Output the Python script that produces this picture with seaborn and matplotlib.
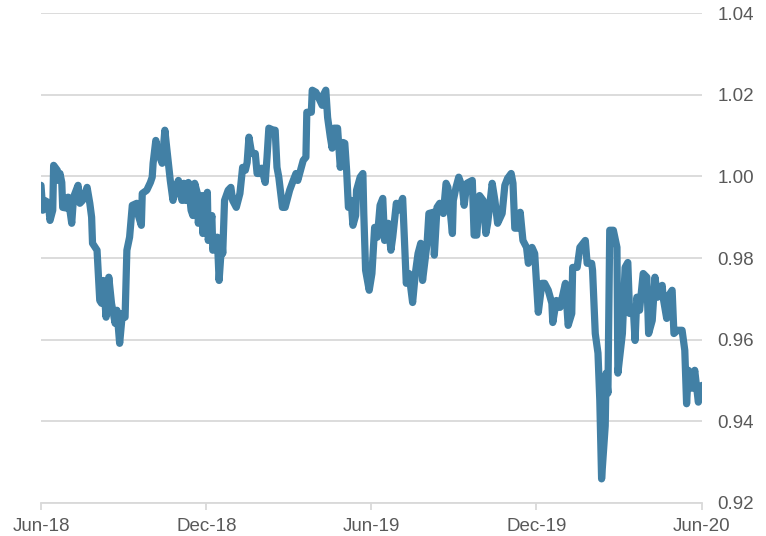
import pandas as pd
import seaborn as sns
import matplotlib.pyplot as plt

day_offset = [
    0, 2, 4, 8, 10, 13, 14, 18, 19, 21, 23, 24, 29, 30, 34, 36, 41, 43, 46, 51,
    54, 56, 57, 62, 65, 67, 69, 72, 75, 78, 82, 84, 87, 90, 93, 95, 98, 101, 106, 107,
    111, 112, 117, 121, 123, 124, 127, 129, 132, 134, 137, 139, 143, 146, 148, 152, 154, 156, 158, 160,
    163, 166, 168, 170, 173, 174, 178, 179, 184, 185, 189, 190, 195, 197, 200, 201, 203, 207, 210, 212,
    216, 220, 223, 226, 228, 230, 233, 237, 239, 242, 244, 248, 250, 252, 257, 259, 261, 263, 267, 270,
    272, 275, 279, 282, 284, 288, 290, 293, 294, 299, 300, 304, 307, 311, 312, 315, 317, 320, 322, 324,
    328, 331, 334, 336, 338, 340, 343, 345, 348, 349, 353, 356, 357, 359, 363, 366, 369, 372, 375, 378,
    380, 384, 387, 389, 393, 395, 400, 404, 407, 411, 414, 417, 420, 422, 427, 429, 434, 435, 438, 441,
    445, 448, 450, 455, 456, 459, 462, 466, 468, 471, 477, 479, 482, 485, 489, 492, 494, 499, 502, 505,
    510, 513, 516, 520, 522, 524, 528, 530, 533, 537, 539, 543, 546, 550, 554, 557, 561, 565, 566, 570,
    574, 580, 583, 587, 588, 593, 596, 602, 604, 609, 610, 613, 616, 618, 620, 624, 625, 627, 629, 633,
    637, 638, 643, 646, 649, 651, 655, 657, 659, 662, 666, 670, 672, 676, 679, 682, 687, 688, 692, 693,
    698, 700, 704, 709, 712, 714, 716, 720, 723, 727, 731,
]
index_value = [
    0.9978, 0.9917, 0.9941, 0.9936, 0.9892, 0.9917, 1.0027, 1.0015, 0.9990, 1.0007,
    0.9985, 0.9924, 0.9922, 0.9949, 0.9885, 0.9949, 0.9978, 0.9934, 0.9941, 0.9973,
    0.9934, 0.9900, 0.9836, 0.9819, 0.9696, 0.9689, 0.9745, 0.9655, 0.9753, 0.9689,
    0.9640, 0.9672, 0.9591, 0.9664, 0.9655, 0.9819, 0.9851, 0.9929, 0.9934, 0.9909,
    0.9880, 0.9958, 0.9966, 0.9985, 0.9998, 1.0032, 1.0088, 1.0064, 1.0044, 1.0032,
    1.0113, 1.0071, 0.9990, 0.9941, 0.9966, 0.9990, 0.9958, 0.9941, 0.9983, 0.9941,
    0.9985, 0.9917, 0.9904, 0.9983, 0.9958, 0.9885, 0.9953, 0.9860, 0.9961, 0.9843,
    0.9904, 0.9819, 0.9851, 0.9745, 0.9843, 0.9811, 0.9941, 0.9966, 0.9973, 0.9941,
    0.9924, 0.9958, 1.0022, 1.0015, 1.0034, 1.0096, 1.0056, 1.0056, 1.0007, 1.0007,
    1.0020, 0.9985, 1.0047, 1.0118, 1.0113, 1.0113, 1.0022, 0.9998, 0.9924, 0.9924,
    0.9941, 0.9966, 0.9990, 1.0007, 0.9990, 1.0022, 1.0039, 1.0047, 1.0157, 1.0157,
    1.0211, 1.0206, 1.0193, 1.0174, 1.0198, 1.0211, 1.0144, 1.0096, 1.0069, 1.0118,
    1.0118, 1.0022, 1.0083, 1.0081, 1.0015, 0.9924, 0.9941, 0.9880, 0.9904, 0.9966,
    0.9998, 1.0007, 0.9909, 0.9770, 0.9721, 0.9762, 0.9875, 0.9851, 0.9929, 0.9946,
    0.9843, 0.9885, 0.9819, 0.9851, 0.9934, 0.9917, 0.9946, 0.9738, 0.9762, 0.9691,
    0.9762, 0.9811, 0.9836, 0.9745, 0.9836, 0.9909, 0.9912, 0.9807, 0.9924, 0.9934,
    0.9909, 0.9983, 0.9973, 0.9860, 0.9941, 0.9973, 0.9998, 0.9973, 0.9929, 0.9983,
    0.9990, 0.9856, 0.9856, 0.9953, 0.9941, 0.9860, 0.9885, 0.9983, 0.9941, 0.9885,
    0.9909, 0.9978, 0.9995, 1.0007, 0.9983, 0.9873, 0.9873, 0.9912, 0.9843, 0.9826,
    0.9787, 0.9826, 0.9811, 0.9667, 0.9738, 0.9738, 0.9721, 0.9689, 0.9642, 0.9696,
    0.9679, 0.9738, 0.9635, 0.9664, 0.9777, 0.9777, 0.9826, 0.9843, 0.9787, 0.9787,
    0.9770, 0.9615, 0.9567, 0.9452, 0.9259, 0.9389, 0.9518, 0.9469, 0.9868, 0.9868,
    0.9826, 0.9518, 0.9615, 0.9777, 0.9789, 0.9664, 0.9679, 0.9598, 0.9704, 0.9672,
    0.9762, 0.9753, 0.9615, 0.9647, 0.9753, 0.9704, 0.9733, 0.9704, 0.9652, 0.9704,
    0.9721, 0.9615, 0.9623, 0.9623, 0.9574, 0.9443, 0.9525, 0.9481, 0.9525, 0.9447,
    0.9488,
]

tick_dates = ["2018-06-01", "2018-12-01", "2019-06-01", "2019-12-01", "2020-06-01"]
tick_labels = ["Jun-18", "Dec-18", "Jun-19", "Dec-19", "Jun-20"]
y_ticks = [0.92, 0.94, 0.96, 0.98, 1.00, 1.02, 1.04]

start = pd.Timestamp("2018-06-01")
df = pd.DataFrame({
    "date": start + pd.to_timedelta(day_offset, unit="D"),
    "value": index_value,
})

sns.set_theme(style="white")
plt.rcParams["font.family"] = ["Liberation Sans", "DejaVu Sans"]

fig = plt.figure(figsize=(7.66, 5.36), dpi=100)
ax = fig.add_axes([0.0535, 0.0616, 0.8629, 0.9141])

sns.lineplot(data=df, x="date", y="value", ax=ax, color="#4280a5",
             linewidth=5.2, solid_joinstyle="round", solid_capstyle="round")

ax.set_xlim(start, pd.Timestamp("2020-06-01"))
ax.set_ylim(0.92, 1.04)

ax.yaxis.tick_right()
ax.set_yticks(y_ticks)
ax.set_yticklabels([f"{v:.2f}" for v in y_ticks])
ax.set_xticks(pd.to_datetime(tick_dates))
ax.set_xticklabels(tick_labels)

ax.grid(axis="y", color="#d9d9d9", linewidth=1.3)
ax.set_axisbelow(True)
for s in ["top", "left", "right"]:
    ax.spines[s].set_visible(False)
ax.spines["bottom"].set_color("#d9d9d9")
ax.spines["bottom"].set_linewidth(1.3)

ax.tick_params(axis="y", length=0, pad=11, labelsize=13.5, labelcolor="#595959")
ax.tick_params(axis="x", bottom=True, length=5, width=1.3, color="#d9d9d9",
               pad=6, labelsize=13.5, labelcolor="#595959")
ax.set_xlabel("")
ax.set_ylabel("")

fig.savefig("out.png", dpi=100)
